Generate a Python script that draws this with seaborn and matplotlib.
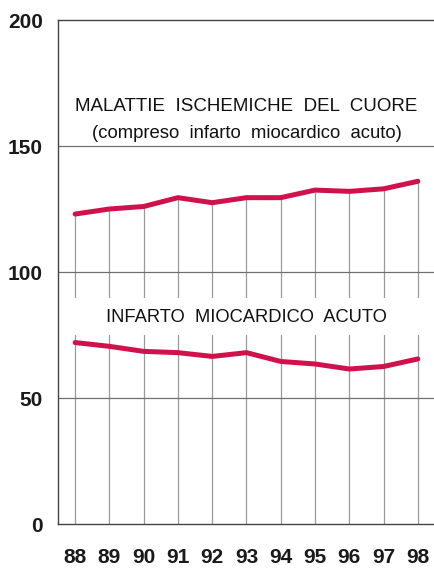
import pandas as pd
import matplotlib
matplotlib.use('Agg')
import matplotlib.pyplot as plt
import seaborn as sns

# Anni (etichette asse x) e valori delle due serie
anni = [88, 89, 90, 91, 92, 93, 94, 95, 96, 97, 98]
ischemiche = [123.0, 125.0, 126.0, 129.5, 127.5, 129.5, 129.5, 132.5, 132.0, 133.0, 136.0]
infarto = [72.0, 70.5, 68.5, 68.0, 66.5, 68.0, 64.5, 63.5, 61.5, 62.5, 65.5]
y_ticks = [0, 50, 100, 150, 200]

df = pd.DataFrame({'anno': anni + anni,
                   'valore': ischemiche + infarto,
                   'serie': ['isch'] * len(anni) + ['ima'] * len(anni)})

sns.set_style('white')
plt.rcParams['font.family'] = ['Liberation Sans', 'DejaVu Sans']

fig = plt.figure(figsize=(4.35, 5.70), dpi=100)
ax = fig.add_axes([58 / 435, 46 / 570, 1 - 58 / 435, 504 / 570])

# linee verticali: dal basso fino alla curva superiore
ax.vlines(anni, 0, ischemiche, color='#9a9a9a', lw=0.9, zorder=1)
for t in y_ticks[1:-1]:
    ax.axhline(t, color='#707070', lw=0.9, zorder=1)
# fascia bianca dietro l'etichetta della serie inferiore
ax.axhspan(75, 89.5, color='white', lw=0, zorder=2)

sns.lineplot(data=df, x='anno', y='valore', units='serie', estimator=None,
             color='#d0124c', linewidth=3.6, ax=ax, zorder=3)

ax.set_xlim(87.5, 98.5)
ax.set_ylim(0, 200)
ax.set_xticks(anni)
ax.set_xticklabels([str(a) for a in anni], fontsize=15, fontweight='bold', color='#1a1a1a')
ax.set_yticks(y_ticks)
ax.set_yticklabels([str(t) for t in y_ticks], fontsize=15, fontweight='bold', color='#1a1a1a')
ax.tick_params(axis='y', length=0, pad=11)
ax.tick_params(axis='x', length=0, pad=17)
ax.set_xlabel('')
ax.set_ylabel('')

for s in ['left', 'top', 'bottom']:
    ax.spines[s].set_color('#444444')
    ax.spines[s].set_linewidth(1.0)
    ax.spines[s].set_zorder(5)
ax.spines['right'].set_visible(False)

ax.text(93, 165.5, 'MALATTIE  ISCHEMICHE  DEL  CUORE', ha='center', va='center',
        fontsize=13.5, color='#111111', zorder=4)
ax.text(93, 155, '(compreso  infarto  miocardico  acuto)', ha='center', va='center',
        fontsize=13.3, color='#111111', zorder=4)
ax.text(93, 82, 'INFARTO  MIOCARDICO  ACUTO', ha='center', va='center',
        fontsize=13.2, color='#111111', zorder=4)

plt.savefig('out.png', dpi=100)
plt.close()
